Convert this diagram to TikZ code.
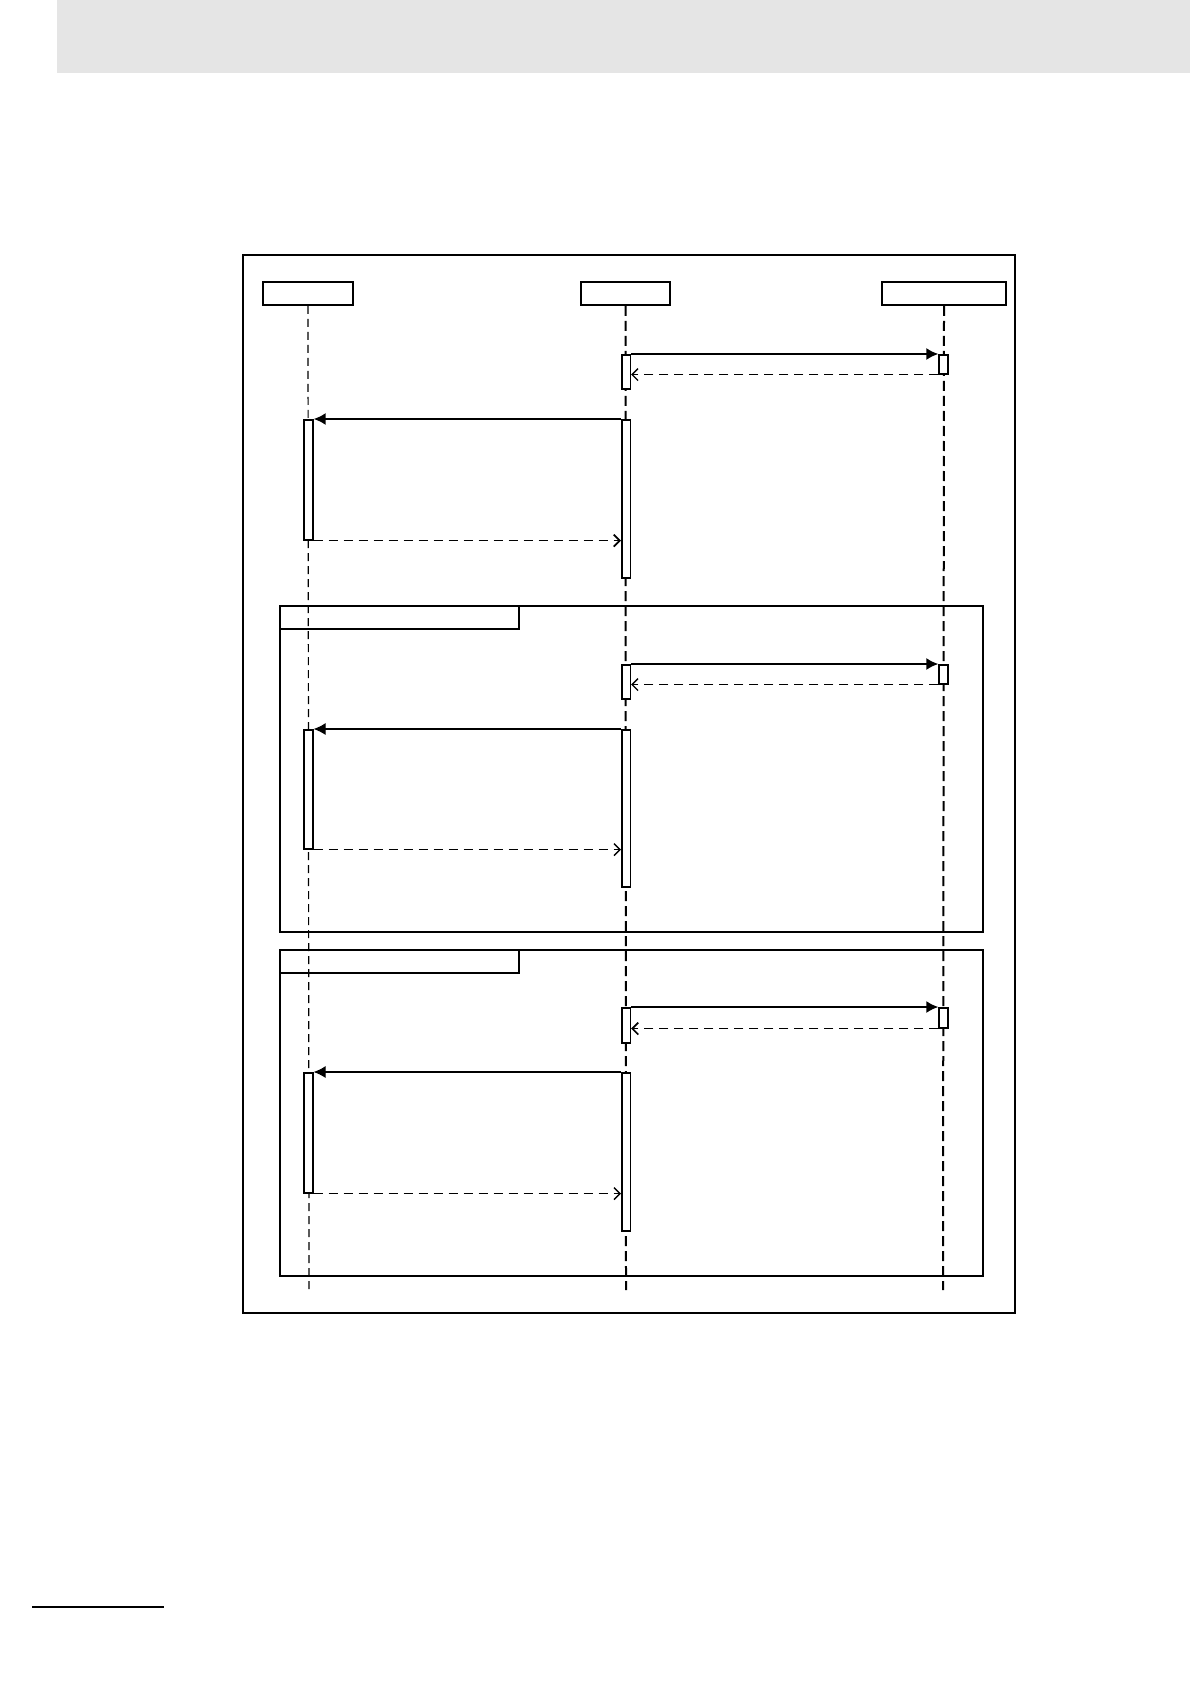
\documentclass[tikz,border=0pt]{standalone}
\usepackage{tikz}
\usetikzlibrary{arrows.meta}

\tikzset{
  head/.style={draw, line width=1pt, inner sep=0pt, minimum height=11.5pt},
  actbar/.style={draw, fill=white, line width=0.8pt, inner sep=0pt, minimum width=4.3pt, anchor=north},
  lifeline/.style={line width=1pt, dash pattern=on 5pt off 2.5pt},
  thinlife/.style={line width=0.6pt, dash pattern=on 4pt off 2.5pt},
  call/.style={line width=1pt, -{Latex[length=6pt,width=6pt]}},
  thincall/.style={line width=0.55pt, -{Latex[length=6pt,width=6pt]}},
  reply/.style={line width=0.65pt, dash pattern=on 4.5pt off 3pt, -{Straight Barb[length=3pt,width=6pt]}},
  fragment/.style={draw, line width=0.8pt}
}

\begin{document}
\begin{tikzpicture}[x=0.5pt,y=-0.5pt]
\useasboundingbox (0,0) rectangle (1190,1684);

% page header and footer rule
\fill[gray!20] (57,0) rectangle (1190,73);
\draw[line width=1.2pt] (32,1607) -- (164,1607);

% outer frame
\draw[line width=1pt] (243,255) rectangle (1015,1313);

% objects
\node[head, minimum width=45pt] (objA) at (308,293.5) {};
\node[head, minimum width=44.5pt] (objB) at (625.5,293.5) {};
\node[head, minimum width=62pt] (objC) at (944,293.5) {};
\coordinate (endA) at (309,1290);
\coordinate (endB) at (626,1290);
\coordinate (endC) at (943,1290);

% loop fragments
\draw[fragment] (280,606) rectangle (983,932);
\draw[fragment] (280,606) rectangle (519,629);
\draw[fragment] (280,950) rectangle (983,1276);
\draw[fragment] (280,950) rectangle (519,973);

% lifelines
\draw[thinlife] (objA.south) -- (endA);
\draw[lifeline] (objB.south) -- (endB);
\draw[lifeline] (objC.south) -- (endC);

% first exchange
\node[actbar, minimum height=17pt] (b1) at (626,354) {};
\node[actbar, minimum height=9.5pt] (c1) at (943.5,354) {};
\node[actbar, minimum height=60pt] (a1) at (308.5,419) {};
\node[actbar, minimum height=79pt] (d1) at (626,419) {};
\draw[call] (b1.north east) -- (c1.north west);
\draw[reply] (c1.south west) -- (b1.east |- c1.south);
\draw[call] (d1.north west) -- (a1.north east);
\draw[reply, line width=0.85pt] (a1.south east) -- (d1.west |- a1.south);

% second exchange
\node[actbar, minimum height=17pt] (b2) at (626,664) {};
\node[actbar, minimum height=9.5pt] (c2) at (943.5,664) {};
\node[actbar, minimum height=59.5pt] (a2) at (308.5,729) {};
\node[actbar, minimum height=78.5pt] (d2) at (626,729) {};
\draw[call] (b2.north east) -- (c2.north west);
\draw[reply] (c2.south west) -- (b2.east |- c2.south);
\draw[thincall] (d2.north west) -- (a2.north east);
\draw[reply] (a2.south east) -- (d2.west |- a2.south);

% third exchange
\node[actbar, minimum height=17.5pt] (b3) at (626,1007) {};
\node[actbar, minimum height=10pt] (c3) at (943.5,1007) {};
\node[actbar, minimum height=60pt] (a3) at (308.5,1072) {};
\node[actbar, minimum height=79pt] (d3) at (626,1072) {};
\draw[call] (b3.north east) -- (c3.north west);
\draw[reply, line width=0.85pt] (c3.south west) -- (b3.east |- c3.south);
\draw[thincall] (d3.north west) -- (a3.north east);
\draw[reply] (a3.south east) -- (d3.west |- a3.south);
\end{tikzpicture}
\end{document}
